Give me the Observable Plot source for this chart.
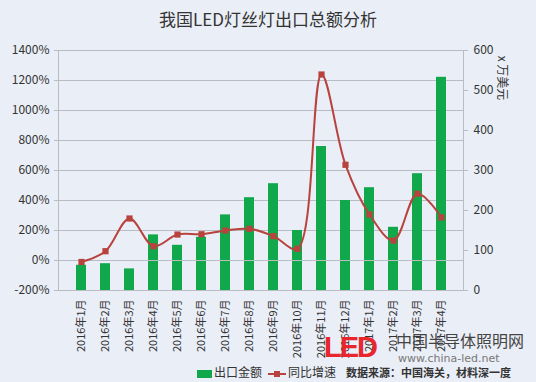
<!DOCTYPE html>
<html><head><meta charset="utf-8">
<script src="https://cdn.jsdelivr.net/npm/d3@7"></script>
<script src="https://cdn.jsdelivr.net/npm/@observablehq/plot@0.6"></script>
<style>
html,body{margin:0;padding:0;background:#eaeef6;}
#wrap{position:relative;width:536px;height:382px;overflow:hidden;background:#eaeef6;font-family:"Noto Sans CJK SC","Noto Sans",sans-serif;}
#title{position:absolute;left:0;width:536px;top:6px;text-align:center;font-size:17px;color:#333;}
#chart{position:absolute;left:0;top:0;}
.leg{position:absolute;top:364px;font-size:12px;color:#333;line-height:16px;white-space:nowrap;}
</style></head>
<body><div id="wrap"><div id="chart"></div><div id="title">我国LED灯丝灯出口总额分析</div>
<div style="position:absolute;left:324px;top:333px;font-family:'Liberation Sans',sans-serif;font-weight:bold;font-size:29px;color:#e8262b;letter-spacing:-2px;line-height:29px;">LED</div>
<div style="position:absolute;left:396px;top:332px;font-size:16px;color:#444;line-height:16px;">中国半导体照明网</div>
<div style="position:absolute;left:398px;top:353px;font-size:11px;color:#777;line-height:11px;font-family:'DejaVu Sans',sans-serif;">www.china-led.net</div>
<div class="leg" style="left:197px;"><span style="display:inline-block;width:15px;height:8px;background:#10a84a;vertical-align:middle;margin-right:2px;"></span>出口金额</div>
<div class="leg" style="left:268px;"><svg width="18" height="10" style="vertical-align:middle;margin-right:2px"><line x1="0" y1="5" x2="18" y2="5" stroke="#b8433e" stroke-width="2"/><rect x="6" y="2" width="6" height="6" fill="#b8433e"/></svg>同比增速</div>
<div class="leg" style="left:346px;font-weight:bold;font-size:11px;">数据来源：中国海关，材料深一度</div>
</div>
<script>
const months = ["2016年1月","2016年2月","2016年3月","2016年4月","2016年5月","2016年6月","2016年7月","2016年8月","2016年9月","2016年10月","2016年11月","2016年12月","2017年1月","2017年2月","2017年3月","2017年4月"];
const exportValue = [63, 67, 54, 139, 113, 133, 189, 232, 267, 150, 360, 225, 257, 158, 292, 533];
const growthPct = [-10, 62, 280, 95, 173, 175, 200, 211, 162, 78, 1240, 638, 307, 133, 445, 287];
const leftTicks = [-200, 0, 200, 400, 600, 800, 1000, 1200, 1400];
const rightTicks = [0, 100, 200, 300, 400, 500, 600];

const toLeft = v => -200 + v * 1600 / 600;
const data = months.map((m, i) => ({m, v: exportValue[i], g: growthPct[i]}));

const plot = Plot.plot({
  width: 536, height: 382,
  marginTop: 50, marginBottom: 92, marginLeft: 58, marginRight: 73,
  style: {background: "transparent", fontFamily: "'Noto Sans CJK SC', sans-serif", fontSize: "11px", color: "#333"},
  x: {domain: months, padding: 0.6, label: null},
  y: {domain: [-200, 1400], label: null},
  marks: [
    Plot.gridY(leftTicks, {stroke: "#b9bcc4", strokeOpacity: 1}),
    Plot.barY(data, {x: "m", y1: -200, y2: d => toLeft(d.v), fill: "#10a84a"}),
    Plot.tickY(months.slice(1), {x: d => d, y: 0, stroke: "#b9bcc4"}),
    Plot.line(data, {x: "m", y: "g", stroke: "#b8433e", strokeWidth: 2, curve: "catmull-rom"}),
    Plot.dot(data, {x: "m", y: "g", symbol: "square", r: 3.5, fill: "#b8433e"}),
    Plot.axisY(leftTicks, {anchor: "left", tickFormat: d => d + "%", stroke: "#b9bcc4", fill: "#333", fontSize: 12, tickSize: 4, label: null}),
    Plot.axisY(rightTicks.map(toLeft), {anchor: "right", tickFormat: d => Math.round((d + 200) * 600 / 1600), stroke: "#b9bcc4", fill: "#333", fontSize: 12, tickSize: 4, tickPadding: 6, label: null}),
    Plot.axisX({anchor: "bottom", tickRotate: -90, tickSize: 0, fill: "#333", fontSize: 11, label: null}),
    Plot.frame({anchor: "left", stroke: "#b9bcc4"}),
    Plot.frame({anchor: "right", stroke: "#b9bcc4"}),
    Plot.frame({anchor: "bottom", stroke: "#b9bcc4"})
  ]
});
document.getElementById("chart").appendChild(plot);

// right axis unit label
const svg = d3.select(plot);
svg.append("text").attr("transform", "translate(501,78) rotate(90)")
  .attr("text-anchor", "middle").attr("dominant-baseline", "middle")
  .style("font-size", "12px").style("fill", "#333").text("x 万美元");
</script></body></html>
